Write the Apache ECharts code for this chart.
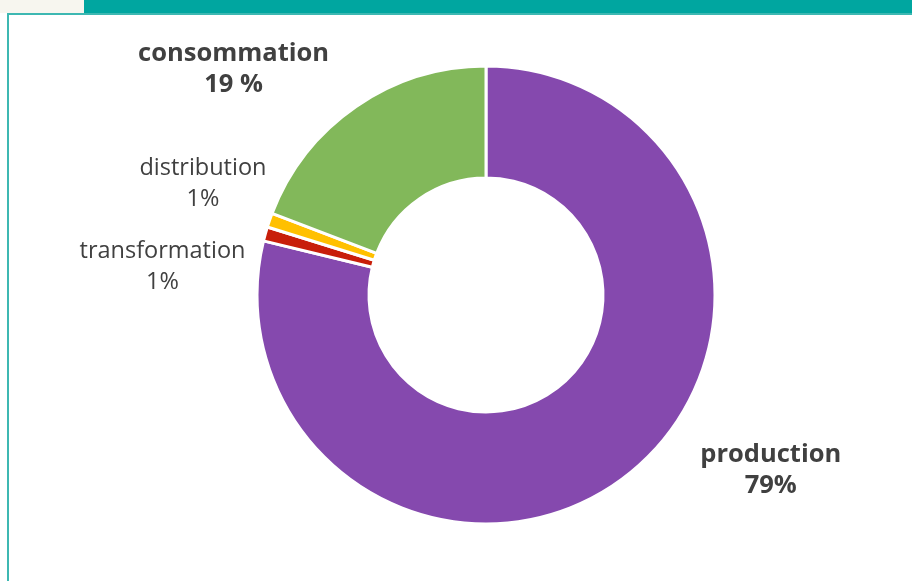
<!DOCTYPE html>
<html><head><meta charset="utf-8">
<script src="https://cdn.jsdelivr.net/npm/echarts@6/dist/echarts.min.js"></script>
<style>html,body{margin:0;padding:0;background:#fff}#c{width:912px;height:581px}</style>
</head><body><div id="c"></div>
<script>
const categories = ['production', 'transformation', 'distribution', 'consommation'];
const values = [78.8, 1.0, 1.0, 19.2];
const labelTexts = ['production\n79%', 'transformation\n1%', 'distribution\n1%', 'consommation\n19 %'];
const colors = ['#8549AE', '#C81E0A', '#FFC000', '#82B85A'];
const bold = [true, false, false, true];
const labelShift = [[99, -17], [-50, -12], [-22, -31], [-79, -25]];

const chart = echarts.init(document.getElementById('c'), null, {renderer: 'canvas'});
chart.setOption({
  animation: false,
  graphic: [
    {type: 'rect', shape: {x: 0, y: 0, width: 84, height: 13}, style: {fill: '#F7F6EF'}, z: 0},
    {type: 'rect', shape: {x: 84, y: 0, width: 828, height: 13}, style: {fill: '#00A6A0'}, z: 0},
    {type: 'rect', shape: {x: 7, y: 13, width: 905, height: 2}, style: {fill: '#3DB8B2'}, z: 0},
    {type: 'rect', shape: {x: 7, y: 13, width: 2, height: 568}, style: {fill: '#3DB8B2'}, z: 0}
  ],
  series: [{
    type: 'pie',
    center: [486, 295],
    radius: [117, 229],
    startAngle: 90,
    clockwise: true,
    itemStyle: {borderColor: '#fff', borderWidth: 3},
    labelLine: {show: false},
    labelLayout: function (p) {
      const s = labelShift[p.dataIndex];
      return {align: 'center', dx: s[0], dy: s[1]};
    },
    data: categories.map((c, i) => ({
      name: c,
      value: values[i],
      itemStyle: {color: colors[i]},
      label: {
        show: true,
        position: 'outside',
        formatter: labelTexts[i],
        color: '#404040',
        fontFamily: 'Open Sans',
        fontSize: bold[i] ? 25.5 : 23.5,
        fontWeight: bold[i] ? 'bold' : 'normal',
        lineHeight: 31
      }
    }))
  }]
});
</script></body></html>
